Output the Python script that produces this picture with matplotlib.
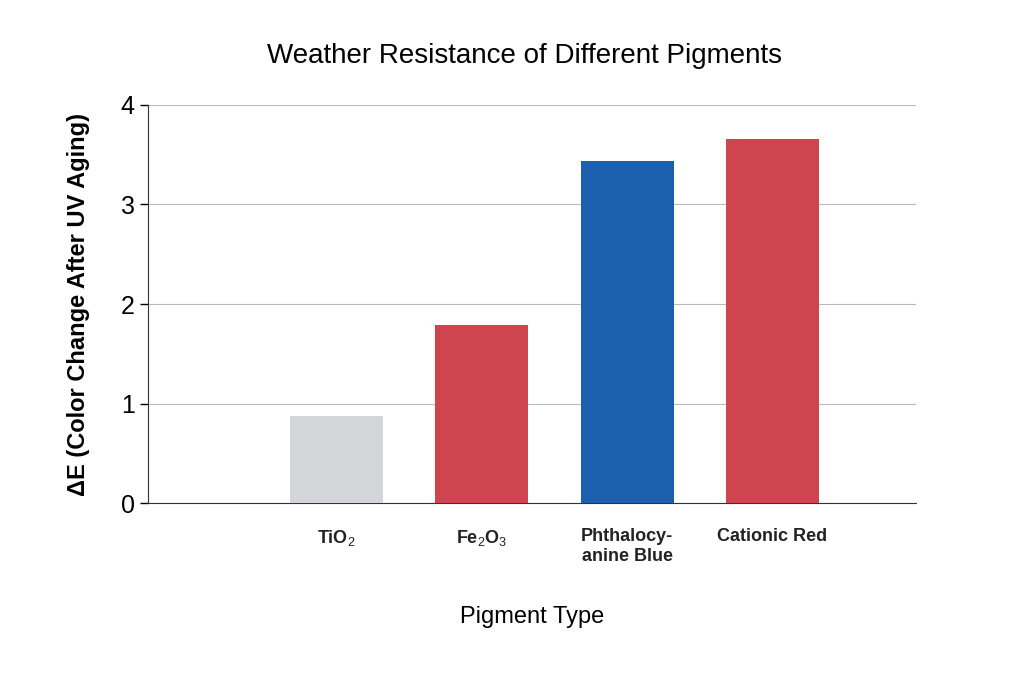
import matplotlib.pyplot as plt

plt.rcParams["font.family"] = "Liberation Sans"
plt.rcParams["mathtext.fontset"] = "custom"
plt.rcParams["mathtext.rm"] = "Liberation Sans"
plt.rcParams["mathtext.bf"] = "Liberation Sans:bold"

pigments = ["TiO$_2$", "Fe$_2$O$_3$", "Phthalocy-\nanine Blue", "Cationic Red"]
delta_e = [0.87, 1.79, 3.44, 3.66]
colors = ["#d3d6d9", "#cf454f", "#1c5fae", "#cf454f"]
yticks = [0, 1, 2, 3, 4]

fig = plt.figure(figsize=(10.24, 6.83), dpi=100)
ax = fig.add_axes([0.1445, 0.2635, 0.75, 0.5828])

pos = [1, 2, 3, 4]
ax.bar(pos, delta_e, width=0.64, color=colors, zorder=3)
ax.set_xlim(-0.3, 4.99)
ax.set_ylim(0, 4)
ax.set_yticks(yticks)
ax.set_yticklabels([str(v) for v in yticks], fontsize=18)
ax.set_xticks(pos)
ax.set_xticklabels(pigments, fontsize=13, fontweight="bold", color="#222222")
ax.tick_params(axis="x", length=0, pad=18)
ax.tick_params(axis="y", length=6, width=1)
ax.grid(axis="y", color="#bbbbbb", linewidth=0.8, zorder=0)
for s in ["top", "right"]:
    ax.spines[s].set_visible(False)
ax.spines["left"].set_color("#333333")
ax.spines["bottom"].set_color("#333333")

ax.set_title("Weather Resistance of Different Pigments", fontsize=20, pad=30, x=0.49)
ax.set_xlabel("Pigment Type", fontsize=17, labelpad=30)
ax.set_ylabel("ΔE (Color Change After UV Aging)", fontsize=17, fontweight="bold", labelpad=22)

fig.savefig("out.png", dpi=100, facecolor="white")
